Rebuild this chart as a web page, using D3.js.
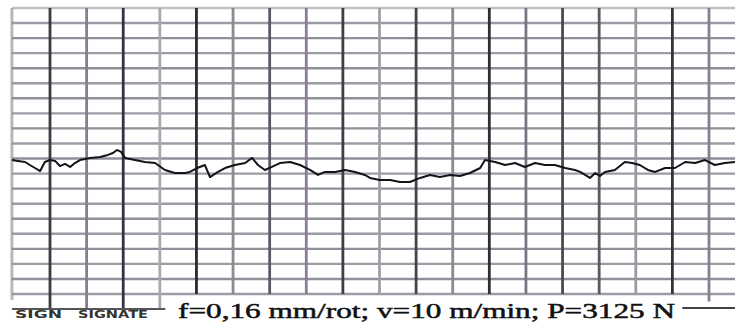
<!DOCTYPE html>
<html>
<head>
<meta charset="utf-8">
<script src="https://cdn.jsdelivr.net/npm/d3@7"></script>
<style>
  body { margin: 0; background: #fff; }
  svg { display: block; }
</style>
</head>
<body>
<svg id="chart"></svg>
<script>
// Chart-paper trace (time and force in grid units x10)
const traceT = [-10.4, -8.7, -6.8, -5.5, -4.1, -2.7, -1.4, 0, 1.4, 2.7, 4.1, 5.5, 6.8, 8.2, 10.9, 13.7,
  15.8, 17.2, 18.3, 19.4, 20.5, 23.2, 25.9, 28.7, 31.4, 34.1, 36.9, 38.2, 40.2, 42.3, 43.7, 45.9,
  47.8, 50.5, 53.3, 55.2, 56.8, 58.7, 60.6, 62.8, 65.6, 68.3, 71.0, 73.2, 75.1, 77.9, 80.6, 83.3,
  86.0, 87.4, 90.1, 92.9, 95.6, 98.3, 101.1, 103.8, 106.5, 109.3, 112.0, 114.7, 117.5, 118.8, 121.6,
  124.3, 127.0, 129.7, 132.5, 135.2, 137.9, 140.7, 143.4, 144.8, 147.5, 148.9, 150.2, 151.6, 154.3,
  157.0, 159.0, 161.1, 163.3, 165.3, 168.0, 170.7, 173.5, 176.2, 178.9, 181.6, 184.3, 187.1];
const traceV = [89.0, 88.4, 87.7, 85.7, 83.7, 81.7, 87.7, 89.0, 88.4, 85.0, 86.4, 84.4, 87.0, 89.0, 90.4, 91.0,
  92.4, 93.7, 95.7, 94.4, 90.4, 89.0, 87.7, 87.0, 82.4, 80.4, 80.4, 81.1, 83.7, 85.7, 77.7, 81.1,
  83.7, 85.7, 87.0, 90.4, 85.7, 82.4, 84.4, 87.0, 87.7, 85.7, 82.4, 79.1, 81.1, 81.1, 82.4, 81.1,
  79.1, 77.1, 75.7, 75.7, 74.4, 74.4, 77.1, 79.1, 77.7, 79.1, 78.4, 80.4, 83.7, 89.0, 87.7,
  85.7, 87.0, 84.4, 87.0, 85.7, 85.7, 83.7, 82.4, 81.1, 77.1, 80.4, 78.4, 81.1, 82.4,
  87.7, 87.0, 85.7, 82.4, 81.1, 83.7, 83.7, 87.7, 87.0, 89.0, 85.7, 87.0, 87.7];

// grid divisions (x10 units)
const vDivs = d3.range(0, 181, 10);
const hDivs = d3.range(0, 191, 10);
const caption = "f=0,16 mm/rot; v=10 m/min; P=3125 N";
const stamp = ["SIGN", "SIGNATE"];

const width = 735, height = 327;
const svg = d3.select('#chart').attr('width', width).attr('height', height);

const x = d3.scaleLinear().domain([0, 180]).range([50, 709]);
const y = d3.scaleLinear().domain([0, 190]).range([294, 8]);

const vColors = ['#3c3c44', '#8a7a92', '#3a2f48', '#a8a8b0', '#2a2a30', '#8c8c90',
  '#5a5a66', '#8c7c94', '#3e3e48', '#a0a0a8', '#4a4050', '#8a8a90', '#2f2f36',
  '#7a7482', '#4a4a52', '#5a5a60', '#9a9aa2', '#3a3040', '#8a7c96'];

// paper edge
svg.append('line')
  .attr('x1', x(-10.4)).attr('x2', x(-10.4))
  .attr('y1', y(190)).attr('y2', y(-4))
  .attr('stroke', '#b8b8bc').attr('stroke-width', 3);

// horizontal grid
svg.append('g').selectAll('line').data(hDivs).join('line')
  .attr('x1', x(-10.4)).attr('x2', width)
  .attr('y1', d => y(d)).attr('y2', d => y(d))
  .attr('stroke', (d, i) => i % 2 ? '#85858f' : '#92929c')
  .attr('stroke-width', 2.4)
  .attr('opacity', d => d === 190 ? 0.5 : 0.9);

// vertical grid
svg.append('g').selectAll('line').data(vDivs).join('line')
  .attr('x1', d => x(d)).attr('x2', d => x(d))
  .attr('y1', y(190))
  .attr('y2', d => d <= 30 ? y(-10) : (d === 180 ? y(-5) : y(0)))
  .attr('stroke', (d, i) => vColors[i])
  .attr('stroke-width', 2.8);

// bottom rule pieces
svg.append('line')
  .attr('x1', x(-10.4)).attr('x2', x(31.5))
  .attr('y1', y(-10)).attr('y2', y(-10))
  .attr('stroke', '#555').attr('stroke-width', 2);
svg.append('line')
  .attr('x1', x(172.7)).attr('x2', width)
  .attr('y1', y(-9.3)).attr('y2', y(-9.3))
  .attr('stroke', '#444').attr('stroke-width', 2);

// recorder trace
const line = d3.line().x((d, i) => x(traceT[i])).y(d => y(d));
svg.append('path')
  .datum(traceV)
  .attr('fill', 'none')
  .attr('stroke', '#15121a')
  .attr('stroke-width', 2)
  .attr('stroke-linejoin', 'round')
  .attr('d', line);

// caption
svg.append('text')
  .attr('x', 178).attr('y', 318)
  .attr('font-family', 'Liberation Serif, Times New Roman, serif')
  .attr('font-size', 22)
  .attr('fill', '#111')
  .attr('stroke', '#111').attr('stroke-width', 0.5)
  .attr('textLength', 497)
  .attr('lengthAdjust', 'spacingAndGlyphs')
  .text(caption);

// smudged stamp text
svg.append('g').selectAll('text').data(stamp).join('text')
  .attr('x', (d, i) => i ? 78 : 15).attr('y', 318)
  .attr('font-family', 'DejaVu Sans, sans-serif')
  .attr('font-weight', 'bold')
  .attr('font-size', 10)
  .attr('fill', '#333')
  .attr('textLength', (d, i) => i ? 70 : 47)
  .attr('lengthAdjust', 'spacingAndGlyphs')
  .text(d => d);
</script>
</body>
</html>
